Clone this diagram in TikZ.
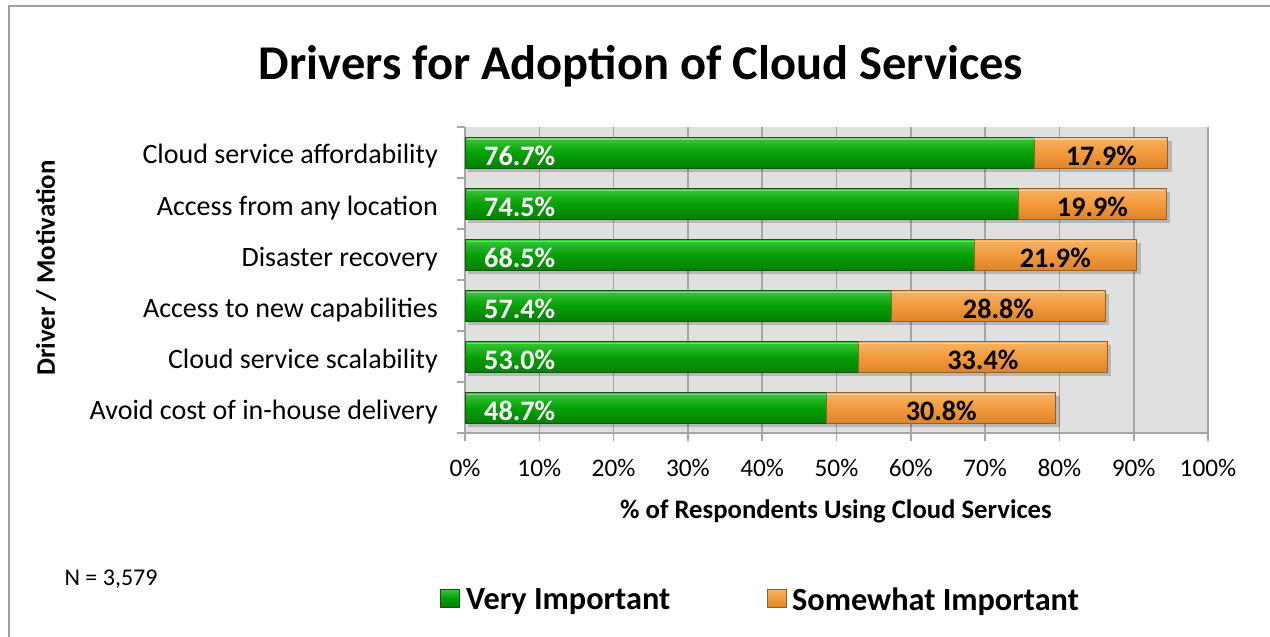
\documentclass[tikz,border=0pt]{standalone}
\usepackage{fontspec}
\setmainfont{Carlito}
\definecolor{plotbg}{HTML}{E0E0E0}
\definecolor{gridc}{HTML}{A6A6A6}
\definecolor{framec}{HTML}{A0A0A0}
\definecolor{gmain}{HTML}{06A006}
\definecolor{glight}{HTML}{3CC83C}
\definecolor{gdark}{HTML}{057F05}
\definecolor{gedge}{HTML}{0A5A0A}
\definecolor{omain}{HTML}{F29A3C}
\definecolor{olight}{HTML}{F7B466}
\definecolor{odark}{HTML}{DD842A}
\definecolor{oedge}{HTML}{9C5E1C}
\tikzset{
  catlabel/.style={anchor=east, inner sep=0pt, font=\fontsize{28}{31}\selectfont},
  ticklabel/.style={inner sep=0pt, font=\fontsize{25.3}{28}\selectfont},
  gval/.style={anchor=west, inner sep=0pt, text=white, font=\bfseries\fontsize{28.2}{31}\selectfont},
  oval/.style={inner sep=0pt, text=black, font=\bfseries\fontsize{28.2}{31}\selectfont},
  gridline/.style={draw=gridc, line width=1.6pt},
  greenbar/.style={top color=glight, bottom color=gdark, middle color=gmain, draw=gedge, line width=0.9pt},
  orangebar/.style={top color=olight, bottom color=odark, middle color=omain, draw=oedge, line width=0.9pt},
  barshadow/.style={fill=black, opacity=0.18},
  legtext/.style={anchor=west, inner sep=0pt, font=\bfseries\fontsize{32.3}{35}\selectfont}
}
\begin{document}
\begin{tikzpicture}[x=1pt,y=-1pt]
\useasboundingbox (0,0) rectangle (1270,637);
\fill[white] (0,0) rectangle (1270,637);
\draw[framec, line width=2pt] (9,637) -- (9,6) -- (1270,6);

% title
\node[inner sep=0pt, font=\bfseries\fontsize{48.5}{52}\selectfont] (title) at (641,66) {Drivers for Adoption of Cloud Services};

% plot area
\fill[plotbg] (465,127) rectangle (1208,433);
\foreach \k in {1,...,10} {
  \draw[gridline] (465+74.3*\k,127) -- (465+74.3*\k,441);
}
\draw[gridline] (465,433) -- (1208,433);
\draw[gridline] (465,127) -- (465,441);
\foreach \j in {0,...,6} {
  \draw[gridline] (457,127+51.0*\j) -- (465,127+51.0*\j);
}
\foreach \k in {0,...,10} {
  \pgfmathtruncatemacro\p{\k*10}
  \node[ticklabel] (tick\k) at (465+74.3*\k,468) {\p\%};
}

% bars
\foreach \i/\lab/\a/\b in {
  0/Cloud service affordability/76.7/17.9,
  1/Access from any location/74.5/19.9,
  2/Disaster recovery/68.5/21.9,
  3/Access to new capabilities/57.4/28.8,
  4/Cloud service scalability/53.0/33.4,
  5/Avoid cost of in-house delivery/48.7/30.8} {
  \pgfmathsetmacro\cy{152.5+\i*51.1}
  \pgfmathsetmacro\xa{465+7.43*\a}
  \pgfmathsetmacro\xb{\xa+7.43*\b}
  \fill[barshadow] (468,\cy-12) rectangle (\xb+4,\cy+19);
  \shade[greenbar] (465,\cy-15.5) rectangle (\xa,\cy+15.5);
  \shade[orangebar] (\xa,\cy-15.5) rectangle (\xb,\cy+15.5);
  \draw[white, opacity=0.35, line width=1.2pt] (467,\cy-13.5) -- (\xb-2,\cy-13.5);
  \node[gval] (gv\i) at (484,\cy+3) {\a\%};
  \node[oval] (ov\i) at ({(\xa+\xb)/2},\cy+3) {\b\%};
  \node[catlabel] (cat\i) at (438,\cy+4) {\lab};
}

% axis titles
\node[inner sep=0pt, font=\bfseries\fontsize{26.7}{29}\selectfont] (xtitle) at (836,511) {\% of Respondents Using Cloud Services};
\node[inner sep=0pt, rotate=90, font=\bfseries\fontsize{26.8}{29}\selectfont] (ytitle) at (46,268) {Driver / Motivation};

% N
\node[inner sep=0pt, font=\fontsize{24}{27}\selectfont] (nlabel) at (111,579) {N = 3,579};

% legend
\shade[greenbar] (440,589) rectangle (459,607);
\shade[orangebar] (767,589) rectangle (786,607);
\node[legtext] (leg1) at (466,602) {Very Important};
\node[legtext] (leg2) at (792,602) {Somewhat Important};
\end{tikzpicture}
\end{document}
